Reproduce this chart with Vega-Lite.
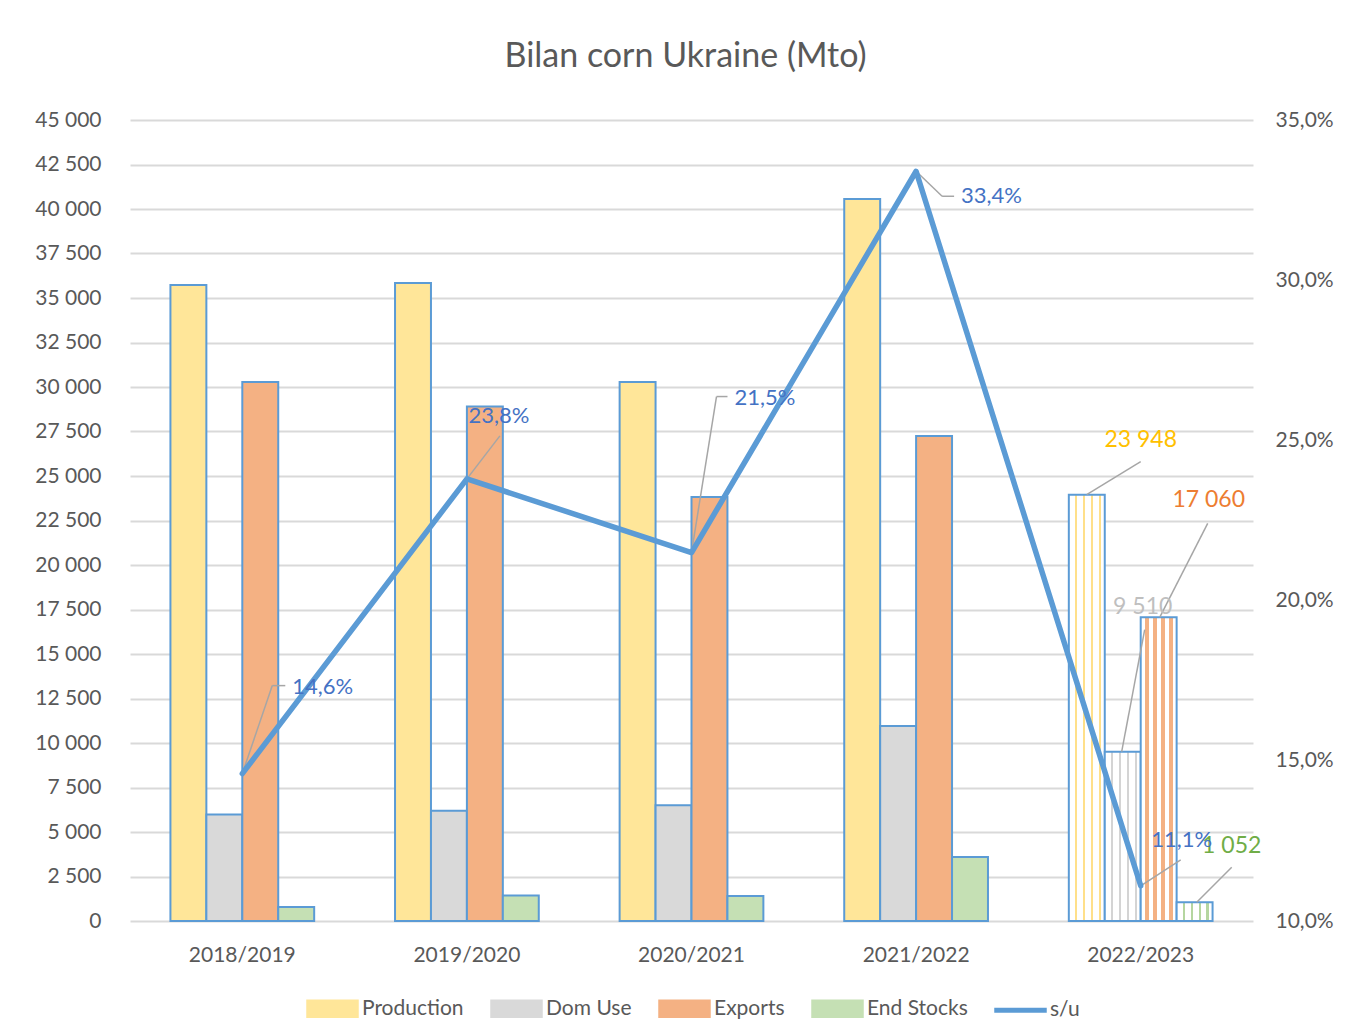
{
  "$schema": "https://vega.github.io/schema/vega-lite/v6.json",
  "width": 1123,
  "height": 801,
  "autosize": "none",
  "padding": {"left": 130, "top": 120, "right": 97, "bottom": 112},
  "background": "white",
  "config": {
    "locale": {"number": {"decimal": ",", "thousands": " ", "grouping": [3], "currency": ["", " €"]}},
    "font": "Lato",
    "view": {"stroke": null},
    "axis": {"labelFont": "Lato", "labelColor": "#595959", "labelFontSize": 21, "ticks": false, "domain": false},
    "legend": {"symbolStrokeColor": "#5B9BD5", "symbolStrokeWidth": 2.5}
  },
  "title": {"text": "Bilan corn Ukraine (Mto)", "font": "Lato", "fontSize": 34, "fontWeight": "normal", "color": "#595959", "anchor": "middle", "baseline": "alphabetic", "offset": 8, "dx": -6},
  "datasets": {
    "bars": [
      {"year": "2018/2019", "series": "Production", "value": 35730},
      {"year": "2018/2019", "series": "Dom Use", "value": 5980},
      {"year": "2018/2019", "series": "Exports", "value": 30280},
      {"year": "2018/2019", "series": "End Stocks", "value": 780},
      {"year": "2019/2020", "series": "Production", "value": 35840},
      {"year": "2019/2020", "series": "Dom Use", "value": 6200},
      {"year": "2019/2020", "series": "Exports", "value": 28900},
      {"year": "2019/2020", "series": "End Stocks", "value": 1430},
      {"year": "2020/2021", "series": "Production", "value": 30280},
      {"year": "2020/2021", "series": "Dom Use", "value": 6500},
      {"year": "2020/2021", "series": "Exports", "value": 23820},
      {"year": "2020/2021", "series": "End Stocks", "value": 1400},
      {"year": "2021/2022", "series": "Production", "value": 40560},
      {"year": "2021/2022", "series": "Dom Use", "value": 10960},
      {"year": "2021/2022", "series": "Exports", "value": 27250},
      {"year": "2021/2022", "series": "End Stocks", "value": 3600},
      {"year": "2022/2023", "series": "Production", "value": 23948},
      {"year": "2022/2023", "series": "Dom Use", "value": 9510},
      {"year": "2022/2023", "series": "Exports", "value": 17060},
      {"year": "2022/2023", "series": "End Stocks", "value": 1052}
    ],
    "su": [
      {"year": "2018/2019", "series": "s/u", "su": 0.146},
      {"year": "2019/2020", "series": "s/u", "su": 0.238},
      {"year": "2020/2021", "series": "s/u", "su": 0.215},
      {"year": "2021/2022", "series": "s/u", "su": 0.334},
      {"year": "2022/2023", "series": "s/u", "su": 0.111}
    ]
  },
  "layer": [
    {
      "data": {"name": "bars"},
      "layer": [
        {
          "mark": {"type": "bar", "stroke": "#5B9BD5", "strokeWidth": 2},
          "encoding": {
            "x": {"field": "year", "type": "nominal", "sort": null, "title": null, "scale": {"paddingInner": 0.36, "paddingOuter": 0.18}, "axis": {"labelAngle": 0, "labelPadding": 23, "grid": false}},
            "xOffset": {"field": "series", "type": "nominal", "sort": ["Production", "Dom Use", "Exports", "End Stocks"], "scale": {"paddingInner": 0, "paddingOuter": 0}},
            "y": {"field": "value", "type": "quantitative", "title": null, "scale": {"domain": [0, 45000], "nice": false}, "axis": {"orient": "left", "values": [0, 2500, 5000, 7500, 10000, 12500, 15000, 17500, 20000, 22500, 25000, 27500, 30000, 32500, 35000, 37500, 40000, 42500, 45000], "format": ",d", "grid": true, "gridColor": "#D9D9D9", "gridWidth": 2, "labelPadding": 29}},
            "color": {
              "condition": [
                {"test": "datum.year === '2022/2023' && datum.series === 'Production'", "value": {"gradient": "linear", "x1": 0, "y1": 0, "x2": 1, "y2": 0, "stops": [
                  {"offset": 0, "color": "#ffffff"}, {"offset": 0.17, "color": "#ffffff"}, {"offset": 0.17, "color": "#FFE08A"}, {"offset": 0.23, "color": "#FFE08A"}, {"offset": 0.23, "color": "#ffffff"},
                  {"offset": 0.39, "color": "#ffffff"}, {"offset": 0.39, "color": "#FFE08A"}, {"offset": 0.45, "color": "#FFE08A"}, {"offset": 0.45, "color": "#ffffff"},
                  {"offset": 0.61, "color": "#ffffff"}, {"offset": 0.61, "color": "#FFE08A"}, {"offset": 0.67, "color": "#FFE08A"}, {"offset": 0.67, "color": "#ffffff"},
                  {"offset": 0.83, "color": "#ffffff"}, {"offset": 0.83, "color": "#FFE08A"}, {"offset": 0.89, "color": "#FFE08A"}, {"offset": 0.89, "color": "#ffffff"}, {"offset": 1, "color": "#ffffff"}]}},
                {"test": "datum.year === '2022/2023' && datum.series === 'Dom Use'", "value": {"gradient": "linear", "x1": 0, "y1": 0, "x2": 1, "y2": 0, "stops": [
                  {"offset": 0, "color": "#ffffff"}, {"offset": 0.17, "color": "#ffffff"}, {"offset": 0.17, "color": "#D4D4D4"}, {"offset": 0.23, "color": "#D4D4D4"}, {"offset": 0.23, "color": "#ffffff"},
                  {"offset": 0.39, "color": "#ffffff"}, {"offset": 0.39, "color": "#D4D4D4"}, {"offset": 0.45, "color": "#D4D4D4"}, {"offset": 0.45, "color": "#ffffff"},
                  {"offset": 0.61, "color": "#ffffff"}, {"offset": 0.61, "color": "#D4D4D4"}, {"offset": 0.67, "color": "#D4D4D4"}, {"offset": 0.67, "color": "#ffffff"},
                  {"offset": 0.83, "color": "#ffffff"}, {"offset": 0.83, "color": "#D4D4D4"}, {"offset": 0.89, "color": "#D4D4D4"}, {"offset": 0.89, "color": "#ffffff"}, {"offset": 1, "color": "#ffffff"}]}},
                {"test": "datum.year === '2022/2023' && datum.series === 'Exports'", "value": {"gradient": "linear", "x1": 0, "y1": 0, "x2": 1, "y2": 0, "stops": [
                  {"offset": 0, "color": "#ffffff"}, {"offset": 0.13, "color": "#ffffff"}, {"offset": 0.13, "color": "#F4B183"}, {"offset": 0.23, "color": "#F4B183"}, {"offset": 0.23, "color": "#ffffff"},
                  {"offset": 0.35, "color": "#ffffff"}, {"offset": 0.35, "color": "#F4B183"}, {"offset": 0.45, "color": "#F4B183"}, {"offset": 0.45, "color": "#ffffff"},
                  {"offset": 0.57, "color": "#ffffff"}, {"offset": 0.57, "color": "#F4B183"}, {"offset": 0.67, "color": "#F4B183"}, {"offset": 0.67, "color": "#ffffff"},
                  {"offset": 0.79, "color": "#ffffff"}, {"offset": 0.79, "color": "#F4B183"}, {"offset": 0.89, "color": "#F4B183"}, {"offset": 0.89, "color": "#ffffff"}, {"offset": 1, "color": "#ffffff"}]}},
                {"test": "datum.year === '2022/2023' && datum.series === 'End Stocks'", "value": {"gradient": "linear", "x1": 0, "y1": 0, "x2": 1, "y2": 0, "stops": [
                  {"offset": 0, "color": "#ffffff"}, {"offset": 0.17, "color": "#ffffff"}, {"offset": 0.17, "color": "#B5D6A0"}, {"offset": 0.23, "color": "#B5D6A0"}, {"offset": 0.23, "color": "#ffffff"},
                  {"offset": 0.39, "color": "#ffffff"}, {"offset": 0.39, "color": "#B5D6A0"}, {"offset": 0.45, "color": "#B5D6A0"}, {"offset": 0.45, "color": "#ffffff"},
                  {"offset": 0.61, "color": "#ffffff"}, {"offset": 0.61, "color": "#B5D6A0"}, {"offset": 0.67, "color": "#B5D6A0"}, {"offset": 0.67, "color": "#ffffff"},
                  {"offset": 0.83, "color": "#ffffff"}, {"offset": 0.83, "color": "#B5D6A0"}, {"offset": 0.89, "color": "#B5D6A0"}, {"offset": 0.89, "color": "#ffffff"}, {"offset": 1, "color": "#ffffff"}]}}
              ],
              "field": "series",
              "type": "nominal",
              "scale": {"domain": ["Production", "Dom Use", "Exports", "End Stocks", "s/u"], "range": ["#FFE699", "#D9D9D9", "#F4B183", "#C5E0B4", "#5B9BD5"]},
              "legend": {
                "orient": "none", "legendX": 176, "legendY": 862, "direction": "horizontal", "columns": 5,
                "title": null, "padding": 0, "labelFont": "Lato", "labelFontSize": 21, "labelColor": "#595959", "labelOffset": 3, "columnPadding": 22,
                "symbolSize": 2500, "symbolType": "M-1,-0.32H1V0.32H-1Z", "symbolStrokeColor": "#5B9BD5", "symbolStrokeWidth": 2.5, "symbolOpacity": 1,
                "encode": {"symbols": {"update": {
                  "shape": {"signal": "datum.value === 's/u' ? 'M-1,-0.05H1V0.05H-1Z' : 'M-1,-0.32H1V0.32H-1Z'"},
                  "fill": {"signal": "scale('color', datum.value)"},
                  "stroke": {"signal": "'#5B9BD5'"},
                  "strokeWidth": {"value": 2.5},
                  "strokeOpacity": {"value": 1},
                  "fillOpacity": {"value": 1}
                }}}
              }
            }
          }
        },
        {
          "transform": [{"filter": "datum.year === '2022/2023' && datum.series === 'Production'"}],
          "mark": {"type": "rule", "color": "#A6A6A6", "strokeWidth": 1.5, "xOffset": -54, "yOffset": 0, "x2Offset": 0, "y2Offset": -33},
          "encoding": {"x": {"field": "year", "type": "nominal", "sort": null, "title": null}, "x2": {"field": "year"}, "y": {"field": "value", "type": "quantitative", "title": null}, "y2": {"field": "value"}}
        },
        {
          "transform": [{"filter": "datum.year === '2022/2023' && datum.series === 'Dom Use'"}],
          "mark": {"type": "rule", "color": "#A6A6A6", "strokeWidth": 1.5, "xOffset": -19, "yOffset": 0, "x2Offset": 4, "y2Offset": -122},
          "encoding": {"x": {"field": "year", "type": "nominal", "sort": null, "title": null}, "x2": {"field": "year"}, "y": {"field": "value", "type": "quantitative", "title": null}, "y2": {"field": "value"}}
        },
        {
          "transform": [{"filter": "datum.year === '2022/2023' && datum.series === 'Exports'"}],
          "mark": {"type": "rule", "color": "#A6A6A6", "strokeWidth": 1.5, "xOffset": 19, "yOffset": 0, "x2Offset": 67, "y2Offset": -94},
          "encoding": {"x": {"field": "year", "type": "nominal", "sort": null, "title": null}, "x2": {"field": "year"}, "y": {"field": "value", "type": "quantitative", "title": null}, "y2": {"field": "value"}}
        },
        {
          "transform": [{"filter": "datum.year === '2022/2023' && datum.series === 'End Stocks'"}],
          "mark": {"type": "rule", "color": "#A6A6A6", "strokeWidth": 1.5, "xOffset": 56, "yOffset": 0, "x2Offset": 91, "y2Offset": -35},
          "encoding": {"x": {"field": "year", "type": "nominal", "sort": null, "title": null}, "x2": {"field": "year"}, "y": {"field": "value", "type": "quantitative", "title": null}, "y2": {"field": "value"}}
        },
        {
          "transform": [{"filter": "datum.year === '2022/2023' && datum.series === 'Production'"}],
          "mark": {"type": "text", "align": "center", "baseline": "middle", "dx": 0, "dy": -55, "fontSize": 23, "font": "Lato", "color": "#FFC000"},
          "encoding": {"x": {"field": "year", "type": "nominal", "sort": null, "title": null}, "y": {"field": "value", "type": "quantitative", "title": null}, "text": {"field": "value", "type": "quantitative", "format": ",d"}}
        },
        {
          "transform": [{"filter": "datum.year === '2022/2023' && datum.series === 'Dom Use'"}],
          "mark": {"type": "text", "align": "center", "baseline": "middle", "dx": 2, "dy": -145, "fontSize": 23, "font": "Lato", "color": "#BFBFBF"},
          "encoding": {"x": {"field": "year", "type": "nominal", "sort": null, "title": null}, "y": {"field": "value", "type": "quantitative", "title": null}, "text": {"field": "value", "type": "quantitative", "format": ",d"}}
        },
        {
          "transform": [{"filter": "datum.year === '2022/2023' && datum.series === 'Exports'"}],
          "mark": {"type": "text", "align": "center", "baseline": "middle", "dx": 68, "dy": -117, "fontSize": 23, "font": "Lato", "color": "#ED7D31"},
          "encoding": {"x": {"field": "year", "type": "nominal", "sort": null, "title": null}, "y": {"field": "value", "type": "quantitative", "title": null}, "text": {"field": "value", "type": "quantitative", "format": ",d"}}
        },
        {
          "transform": [{"filter": "datum.year === '2022/2023' && datum.series === 'End Stocks'"}],
          "mark": {"type": "text", "align": "center", "baseline": "middle", "dx": 91, "dy": -56, "fontSize": 23, "font": "Lato", "color": "#70AD47"},
          "encoding": {"x": {"field": "year", "type": "nominal", "sort": null, "title": null}, "y": {"field": "value", "type": "quantitative", "title": null}, "text": {"field": "value", "type": "quantitative", "format": ",d"}}
        }
      ]
    },
    {
      "data": {"name": "su"},
      "layer": [
        {
          "transform": [{"filter": "datum.year === '2018/2019'"}],
          "mark": {"type": "rule", "color": "#A6A6A6", "strokeWidth": 1.5, "xOffset": 0, "yOffset": 0, "x2Offset": 30, "y2Offset": -88},
          "encoding": {"x": {"field": "year", "type": "nominal", "sort": null, "title": null}, "x2": {"field": "year"}, "y": {"field": "su", "type": "quantitative", "title": null}, "y2": {"field": "su"}}
        },
        {
          "transform": [{"filter": "datum.year === '2018/2019'"}],
          "mark": {"type": "rule", "color": "#A6A6A6", "strokeWidth": 1.5, "xOffset": 30, "yOffset": -88, "x2Offset": 43, "y2Offset": -88},
          "encoding": {"x": {"field": "year", "type": "nominal", "sort": null, "title": null}, "x2": {"field": "year"}, "y": {"field": "su", "type": "quantitative", "title": null}, "y2": {"field": "su"}}
        },
        {
          "transform": [{"filter": "datum.year === '2019/2020'"}],
          "mark": {"type": "rule", "color": "#A6A6A6", "strokeWidth": 1.5, "xOffset": 0, "yOffset": 0, "x2Offset": 33, "y2Offset": -43},
          "encoding": {"x": {"field": "year", "type": "nominal", "sort": null, "title": null}, "x2": {"field": "year"}, "y": {"field": "su", "type": "quantitative", "title": null}, "y2": {"field": "su"}}
        },
        {
          "transform": [{"filter": "datum.year === '2020/2021'"}],
          "mark": {"type": "rule", "color": "#A6A6A6", "strokeWidth": 1.5, "xOffset": 0, "yOffset": 0, "x2Offset": 25, "y2Offset": -156},
          "encoding": {"x": {"field": "year", "type": "nominal", "sort": null, "title": null}, "x2": {"field": "year"}, "y": {"field": "su", "type": "quantitative", "title": null}, "y2": {"field": "su"}}
        },
        {
          "transform": [{"filter": "datum.year === '2020/2021'"}],
          "mark": {"type": "rule", "color": "#A6A6A6", "strokeWidth": 1.5, "xOffset": 25, "yOffset": -156, "x2Offset": 36, "y2Offset": -156},
          "encoding": {"x": {"field": "year", "type": "nominal", "sort": null, "title": null}, "x2": {"field": "year"}, "y": {"field": "su", "type": "quantitative", "title": null}, "y2": {"field": "su"}}
        },
        {
          "transform": [{"filter": "datum.year === '2021/2022'"}],
          "mark": {"type": "rule", "color": "#A6A6A6", "strokeWidth": 1.5, "xOffset": 0, "yOffset": 0, "x2Offset": 26, "y2Offset": 25},
          "encoding": {"x": {"field": "year", "type": "nominal", "sort": null, "title": null}, "x2": {"field": "year"}, "y": {"field": "su", "type": "quantitative", "title": null}, "y2": {"field": "su"}}
        },
        {
          "transform": [{"filter": "datum.year === '2021/2022'"}],
          "mark": {"type": "rule", "color": "#A6A6A6", "strokeWidth": 1.5, "xOffset": 26, "yOffset": 25, "x2Offset": 38, "y2Offset": 25},
          "encoding": {"x": {"field": "year", "type": "nominal", "sort": null, "title": null}, "x2": {"field": "year"}, "y": {"field": "su", "type": "quantitative", "title": null}, "y2": {"field": "su"}}
        },
        {
          "transform": [{"filter": "datum.year === '2022/2023'"}],
          "mark": {"type": "rule", "color": "#A6A6A6", "strokeWidth": 1.5, "xOffset": 0, "yOffset": 0, "x2Offset": 40, "y2Offset": -26},
          "encoding": {"x": {"field": "year", "type": "nominal", "sort": null, "title": null}, "x2": {"field": "year"}, "y": {"field": "su", "type": "quantitative", "title": null}, "y2": {"field": "su"}}
        },
        {
          "mark": {"type": "line", "strokeWidth": 5.5, "strokeCap": "round", "strokeJoin": "round"},
          "encoding": {
            "x": {"field": "year", "type": "nominal", "sort": null, "title": null},
            "y": {"field": "su", "type": "quantitative", "title": null, "scale": {"domain": [0.1, 0.35], "nice": false, "zero": false}, "axis": {"orient": "right", "values": [0.1, 0.15, 0.2, 0.25, 0.3, 0.35], "format": ".1%", "grid": false, "labelPadding": 22}},
            "color": {"field": "series", "type": "nominal", "legend": null}
          }
        },
        {
          "transform": [{"filter": "datum.year === '2018/2019'"}],
          "mark": {"type": "text", "align": "left", "baseline": "middle", "dx": 50, "dy": -87, "fontSize": 22, "font": "Lato", "color": "#4472C4"},
          "encoding": {"x": {"field": "year", "type": "nominal", "sort": null, "title": null}, "y": {"field": "su", "type": "quantitative", "title": null}, "text": {"field": "su", "type": "quantitative", "format": ".1%"}}
        },
        {
          "transform": [{"filter": "datum.year === '2019/2020'"}],
          "mark": {"type": "text", "align": "center", "baseline": "middle", "dx": 32, "dy": -63, "fontSize": 22, "font": "Lato", "color": "#4472C4"},
          "encoding": {"x": {"field": "year", "type": "nominal", "sort": null, "title": null}, "y": {"field": "su", "type": "quantitative", "title": null}, "text": {"field": "su", "type": "quantitative", "format": ".1%"}}
        },
        {
          "transform": [{"filter": "datum.year === '2020/2021'"}],
          "mark": {"type": "text", "align": "left", "baseline": "middle", "dx": 43, "dy": -155, "fontSize": 22, "font": "Lato", "color": "#4472C4"},
          "encoding": {"x": {"field": "year", "type": "nominal", "sort": null, "title": null}, "y": {"field": "su", "type": "quantitative", "title": null}, "text": {"field": "su", "type": "quantitative", "format": ".1%"}}
        },
        {
          "transform": [{"filter": "datum.year === '2021/2022'"}],
          "mark": {"type": "text", "align": "left", "baseline": "middle", "dx": 45, "dy": 25, "fontSize": 22, "font": "Lato", "color": "#4472C4"},
          "encoding": {"x": {"field": "year", "type": "nominal", "sort": null, "title": null}, "y": {"field": "su", "type": "quantitative", "title": null}, "text": {"field": "su", "type": "quantitative", "format": ".1%"}}
        },
        {
          "transform": [{"filter": "datum.year === '2022/2023'"}],
          "mark": {"type": "text", "align": "center", "baseline": "middle", "dx": 41, "dy": -46, "fontSize": 22, "font": "Lato", "color": "#4472C4"},
          "encoding": {"x": {"field": "year", "type": "nominal", "sort": null, "title": null}, "y": {"field": "su", "type": "quantitative", "title": null}, "text": {"field": "su", "type": "quantitative", "format": ".1%"}}
        }
      ]
    }
  ],
  "resolve": {"scale": {"y": "independent"}}
}
